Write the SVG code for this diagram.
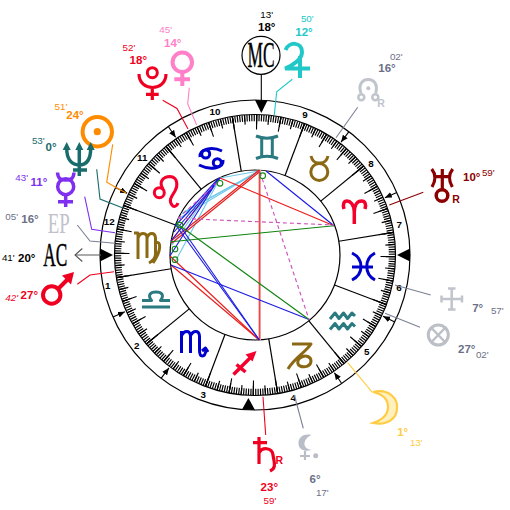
<svg xmlns="http://www.w3.org/2000/svg" width="510" height="510" viewBox="0 0 510 510">
<style>
text{font-family:"Liberation Sans",Arial,sans-serif;text-anchor:middle}
.d{font-size:11.5px;font-weight:700}
.m{font-size:9.8px}
.h{font-size:9.8px;font-weight:700;fill:#000}
.r{font-size:10.5px;font-weight:700}
.big{font-family:"Liberation Serif","Times New Roman",serif;font-weight:400}
.ring{fill:none;stroke:#000;stroke-width:1.2}
.bnd line{stroke:#000;stroke-width:1.2}
.g{fill:none;stroke-linecap:butt;stroke-linejoin:round}
.gb{stroke:#0000cc}.gt{stroke:#2a7a80}.gn{stroke:#8b6914}.gr{stroke:#f5002d}
.con polyline,.con line{fill:none;stroke-width:1.1}
.asp line{stroke-width:1.15;fill:none}
.bl{stroke:#1c1ce4}.rd{stroke:#ea1c1c}.gre{stroke:#108410}.lb{stroke:#70c8ea}.mg{stroke:#cc55bb;stroke-dasharray:4 3}
.cj{fill:none;stroke:#128a12;stroke-width:1.1}
.tri{fill:#000}
.ha line{stroke:#000;stroke-width:1.1}
</style>
<defs>
<marker id="ah" markerUnits="userSpaceOnUse" markerWidth="8" markerHeight="7" refX="7" refY="3" orient="auto"><path d="M0,0L7,3L0,6Z" fill="#000"/></marker>
</defs>

<g id="wheel">
<circle class="ring" cx="255" cy="255" r="155"/>
<circle class="ring" cx="255" cy="255" r="140.5"/>
<circle class="ring" cx="255" cy="255" r="85"/>
<g fill="none" stroke="#000" transform="rotate(-159.32 255 255)">
<circle cx="255" cy="255" r="137" stroke-width="6.5" pathLength="360" stroke-dasharray=".5 .5" stroke-dashoffset=".25"/>
<circle cx="255" cy="255" r="135.5" stroke-width="9.5" pathLength="72" stroke-dasharray=".1 .9" stroke-dashoffset=".05"/>
<circle cx="255" cy="255" r="133" stroke-width="15" pathLength="36" stroke-dasharray=".05 .95" stroke-dashoffset=".025"/>
</g>
<g class="bnd">
<line x1="340" y1="255" x2="395" y2="255" transform="rotate(-159.32 255 255)"/>
<line x1="340" y1="255" x2="395" y2="255" transform="rotate(-189.32 255 255)"/>
<line x1="340" y1="255" x2="395" y2="255" transform="rotate(-219.32 255 255)"/>
<line x1="340" y1="255" x2="395" y2="255" transform="rotate(-249.32 255 255)"/>
<line x1="340" y1="255" x2="395" y2="255" transform="rotate(-279.32 255 255)"/>
<line x1="340" y1="255" x2="395" y2="255" transform="rotate(-309.32 255 255)"/>
<line x1="340" y1="255" x2="395" y2="255" transform="rotate(-339.32 255 255)"/>
<line x1="340" y1="255" x2="395" y2="255" transform="rotate(-9.32 255 255)"/>
<line x1="340" y1="255" x2="395" y2="255" transform="rotate(-39.32 255 255)"/>
<line x1="340" y1="255" x2="395" y2="255" transform="rotate(-69.32 255 255)"/>
<line x1="340" y1="255" x2="395" y2="255" transform="rotate(-99.32 255 255)"/>
<line x1="340" y1="255" x2="395" y2="255" transform="rotate(-129.32 255 255)"/>
</g>
<g class="ha">
<line x1="410" y1="255" x2="397" y2="255" marker-end="url(#ah)" transform="rotate(-23.8 255 255)"/>
<line x1="410" y1="255" x2="397" y2="255" marker-end="url(#ah)" transform="rotate(-52.7 255 255)"/>
<line x1="410" y1="255" x2="397" y2="255" marker-end="url(#ah)" transform="rotate(-124 255 255)"/>
<line x1="410" y1="255" x2="397" y2="255" marker-end="url(#ah)" transform="rotate(-154.2 255 255)"/>
<line x1="410" y1="255" x2="397" y2="255" marker-end="url(#ah)" transform="rotate(-203.6 255 255)"/>
<line x1="410" y1="255" x2="397" y2="255" marker-end="url(#ah)" transform="rotate(-232.7 255 255)"/>
<line x1="410" y1="255" x2="397" y2="255" marker-end="url(#ah)" transform="rotate(-304 255 255)"/>
<line x1="410" y1="255" x2="397" y2="255" marker-end="url(#ah)" transform="rotate(-334.4 255 255)"/>
</g>
<polygon class="tri" points="255,100 267.5,100.5 261.3,113"/>
<polygon class="tri" points="100,248.5 100,261.5 113,255"/>
<polygon class="tri" points="242,409.5 255,410 248.4,398"/>
<polygon class="tri" points="410,248.5 410,261.5 397,255"/>
<g>
<text class="h" x="215" y="115.2">10</text><text class="h" x="142.3" y="161.2">11</text><text class="h" x="109.3" y="225.2">12</text>
<text class="h" x="107.7" y="288.6">1</text><text class="h" x="136.7" y="349.2">2</text><text class="h" x="203.3" y="397.8">3</text>
<text class="h" x="293.3" y="401.2">4</text><text class="h" x="366.7" y="355.2">5</text><text class="h" x="399" y="290.8">6</text>
<text class="h" x="399.3" y="227.8">7</text><text class="h" x="371" y="166.8">8</text><text class="h" x="305" y="117.8">9</text>
</g>
</g>

<g id="signs" class="g" stroke-width="3">
<g id="sign-cancer" class="gb"><circle cx="205.7" cy="154" r="4"/><circle cx="217.3" cy="162.7" r="4"/><path d="M200,157C199,149 212,146 222,151M223,160C224,168 211,171 199,165"/></g>
<g id="sign-leo" class="gr"><circle cx="159.3" cy="192.7" r="5"/><path d="M163,189C158,181 164,176.5 170,176.5C178,177 178,186 175,191C172,196 168,200 172,205C174,208 177,206 178,203"/></g>
<g id="sign-virgo" class="gn"><path d="M134,233H138V259M138,238C140,232 147,232 147,238V258M147,238C149,232 155,232 155.5,238V254C155.5,258 153,261 149,263M155.5,243C161,240 162,250 153,263"/></g>
<g id="sign-libra" class="gt"><path d="M142,300.5H151.5C147.5,295 150,292 156,292C162,292 164.5,295 160.5,300.5H170M142,307H170"/></g>
<g id="sign-scorpio" class="gb"><path d="M181.5,331V353M181.5,336C184,330 190,330 190.5,336V353M190.5,336C193,330 199,330 199.5,336V350C199.5,358 205,358 206,350M202,351L205.5,348L208,352"/></g>
<g id="sign-sagittarius" class="gr"><path d="M233.5,374.5L252,356M236.5,364.5L245.5,372" stroke-width="3.5"/><polygon points="256.5,351 245.5,354.5 252.5,361.5" fill="#f5002d" stroke="none"/></g>
<g id="sign-capricorn" class="gn"><path d="M292,344H311C306,352 294,358 288,369M300,358C306,354 311,357 311,361C311,366 305,368 300,366C297,364.5 297,360 300,358"/></g>
<g id="sign-aquarius" class="gt"><path d="M330,319L335,313L339,318.5L343.5,313L347.5,318.5L352,313L355,316M330,329.5L335,323.5L339,329L343.5,323.5L347.5,329L352,323.5L355,326.5"/></g>
<g id="sign-pisces" class="gb"><path d="M352,253C364,259 364,274 352,280M375,253C364,259 364,274 375,280M352,267H373"/></g>
<g id="sign-aries" class="gr" stroke-width="3.5"><path d="M354.3,224V212C354,204 350,201 347,201C344,201 342.5,204 344,209M354.3,212C354.5,204 358,201 361.5,201C365,201 366.5,204 365,209"/></g>
<g id="sign-taurus" class="gn"><circle cx="319.3" cy="172" r="8.5"/><path d="M311,156C313,164 318,163 319.3,163C321,163 326,164 328,156"/></g>
<g id="sign-gemini" class="gt"><path d="M256,136Q267,140.5 278,136M256,158.5Q267,154 278,158.5M261.7,138V156.5M272.3,138V156.5"/></g>
</g>

<g id="aspects" class="asp">
<line class="lb" x1="259" y1="171" x2="220" y2="178"/>
<line class="lb" x1="259" y1="171" x2="178" y2="219"/>
<line class="lb" x1="259" y1="171" x2="181" y2="214"/>
<line class="lb" x1="259" y1="171" x2="184" y2="212"/>
<line class="lb" x1="220" y1="178" x2="175" y2="262"/>
<line class="lb" x1="220" y1="178" x2="172" y2="245"/>
<line class="rd" x1="259.3" y1="170" x2="259.3" y2="340"/>
<line stroke="#f69a9a" x1="260.4" y1="170" x2="260.4" y2="340"/>
<line class="rd" x1="259.3" y1="170" x2="171" y2="241"/>
<line class="rd" x1="259.3" y1="172" x2="172" y2="243"/>
<line class="rd" x1="220" y1="178" x2="334" y2="225.7"/>
<line class="rd" x1="220" y1="178" x2="171" y2="241"/>
<line class="rd" x1="170" y1="256" x2="259.3" y2="340"/>
<line class="rd" x1="171" y1="265" x2="259.3" y2="340"/>
<line class="bl" x1="266" y1="171" x2="334" y2="225.7"/>
<line class="bl" x1="220" y1="178" x2="171" y2="241"/>
<line class="bl" x1="219" y1="178" x2="170" y2="256"/>
<line class="bl" x1="218" y1="179" x2="176" y2="225"/>
<line class="bl" x1="220" y1="178" x2="174" y2="232"/>
<line class="bl" x1="171" y1="265" x2="309" y2="319.5"/>
<line class="bl" x1="180" y1="226" x2="259.3" y2="340"/>
<line class="bl" x1="175" y1="224" x2="259.3" y2="340"/>
<line class="gre" x1="171" y1="241.7" x2="334" y2="225.7"/>
<line class="gre" x1="176" y1="223" x2="309" y2="319.5"/>
<line class="mg" x1="178" y1="218.3" x2="334" y2="225"/>
<line class="mg" x1="260" y1="172" x2="309" y2="319.5"/>
<line class="mg" x1="178" y1="218.3" x2="220" y2="180"/>
<circle class="cj" cx="262.7" cy="175.7" r="2.8"/>
<circle class="cj" cx="220" cy="183.3" r="2.8"/>
<circle class="cj" cx="180" cy="225" r="2.8"/>
<circle class="cj" cx="175" cy="249" r="2.8"/>
<circle class="cj" cx="175" cy="259.7" r="2.8"/>
</g>

<g id="connectors" class="con">
<polyline stroke="#f00020" points="162.7,100.3 177,108.5 188,129"/>
<polyline stroke="#ff80c8" points="189.3,87.7 187.7,104 196.7,125"/>
<polyline stroke="#ff8c00" points="112.7,144.3 106.7,182.3 126,193"/>
<polyline stroke="#1a6b6b" points="96.7,169.3 100,199 123,208"/>
<polyline stroke="#7f2fef" points="84.7,196.7 91.7,229.3 115,232.7"/>
<polyline stroke="#7a8094" points="77.3,225 90,241 115,243.3"/>
<polyline stroke="#f00020" points="77.3,284.3 90,275 114,271.7"/>
<polyline stroke="#22c8c8" points="292.3,79.3 276.7,91.7 274.3,115"/>
<line stroke="#7a8094" x1="357.7" y1="107.3" x2="336" y2="137.7"/>
<line stroke="#8b0000" x1="423.3" y1="192.3" x2="389.3" y2="205"/>
<line stroke="#7a8094" x1="430.7" y1="295" x2="395" y2="285"/>
<line stroke="#7a8094" x1="420" y1="327.3" x2="385" y2="313.3"/>
<line stroke="#ffcc44" x1="372.3" y1="392.3" x2="347.7" y2="362.7"/>
<line stroke="#7a8094" x1="303.3" y1="428.3" x2="294.3" y2="395"/>
<line stroke="#f00020" x1="265.7" y1="435" x2="263" y2="396.7"/>
<line stroke="#000" x1="261.3" y1="75" x2="261.3" y2="101"/>
<line stroke="#666" stroke-width="1.8" x1="75" y1="255" x2="101" y2="255"/>
<polyline stroke="#555" points="82.3,248.5 75,255 82.3,261.5"/>
</g>

<g id="mc">
<circle cx="261" cy="55.3" r="19" fill="#fff" stroke="#000" stroke-width="1.2"/>
<text class="big" x="261" y="67" font-size="35" stroke="#000" stroke-width=".45" textLength="27" lengthAdjust="spacingAndGlyphs">MC</text>
<text class="m" x="266.7" y="17.5">13'</text><text class="d" x="266.7" y="31.2">18°</text>
</g>
<g id="jupiter">
<path d="M285.5,50C289,41 302,42 302,52C302,59 294,65 285,68.5H310M300,56V78" fill="none" stroke="#22c8c8" stroke-width="4"/>
<text class="m" x="307.3" y="21.5" fill="#22c8c8">50'</text><text class="d" x="304" y="36.2" fill="#22c8c8">12°</text>
</g>
<g id="venus">
<circle cx="182.3" cy="62.3" r="9.7" fill="none" stroke="#ff80c8" stroke-width="4"/><path d="M182.3,72V86M174.3,79.3H190" fill="none" stroke="#ff80c8" stroke-width="4"/>
<text class="m" x="165.7" y="32.5" fill="#ff80c8">45'</text><text class="d" x="172.7" y="47.2" fill="#ff80c8">14°</text>
</g>
<g id="pluto">
<circle cx="152.3" cy="72.7" r="5" fill="none" stroke="#f00020" stroke-width="3"/><path d="M139,74C139,92 166,92 166,74M152.3,87V100M146,94.3H158.7" fill="none" stroke="#f00020" stroke-width="3.2"/>
<text class="m" x="129" y="51" fill="#f00020">52'</text><text class="d" x="138.3" y="64.2" fill="#f00020">18°</text>
</g>
<g id="sun">
<circle cx="97.3" cy="131.7" r="14.7" fill="none" stroke="#ff8c00" stroke-width="4"/><circle cx="97.3" cy="131.7" r="3.6" fill="#ff8c00"/>
<text class="m" x="61" y="110" fill="#ff8c00">51'</text><text class="d" x="75" y="119.2" fill="#ff8c00">24°</text>
</g>
<g id="neptune">
<path d="M66.7,148C66.7,160 72,165 79.3,165C86.5,165 90.7,160 90.7,148M79.3,148V176M73,170H87" fill="none" stroke="#1a6b6b" stroke-width="3.5"/>
<path d="M62.7,150L66.7,142L70.7,150ZM75.3,150L79.3,142L83.3,150ZM86.7,150L90.7,142L94.7,150Z" fill="#1a6b6b"/>
<text class="m" x="38.3" y="144" fill="#1a6b6b">53'</text><text class="d" x="51" y="151.2" fill="#1a6b6b">0°</text>
</g>
<g id="mercury">
<circle cx="65.7" cy="186.7" r="8" fill="none" stroke="#7f2fef" stroke-width="3.5"/><path d="M57.5,172.5C58,180 62,180 65.7,180C69.5,180 73.5,180 74,172.5M65.7,195V207M58,201.7H73" fill="none" stroke="#7f2fef" stroke-width="3.5"/>
<text class="m" x="21.7" y="181" fill="#7f2fef">43'</text><text class="d" x="39" y="186.2" fill="#7f2fef">11°</text>
</g>
<g id="ep">
<text class="big" x="58.8" y="232.5" font-size="29" fill="#bfc2ca" textLength="22" lengthAdjust="spacingAndGlyphs">EP</text>
<text class="m" x="11.7" y="220" fill="#6b7086">05'</text><text class="d" x="30" y="223.2" fill="#6b7086">16°</text>
</g>
<g id="ac">
<text class="big" x="55.3" y="265.5" font-size="33" fill="#000" stroke="#000" stroke-width=".45" textLength="24" lengthAdjust="spacingAndGlyphs">AC</text>
<text class="m" x="8.3" y="261">41'</text><text class="d" x="26.7" y="261.8">20°</text>
</g>
<g id="mars">
<circle cx="51.7" cy="295" r="8.7" fill="none" stroke="#f00020" stroke-width="4"/><path d="M58,289L68,279" fill="none" stroke="#f00020" stroke-width="4"/><polygon points="74,272 62,275.5 71,284.5" fill="#f00020"/>
<text class="m" x="11.7" y="301" fill="#f00020" font-style="italic">42'</text><text class="d" x="29.3" y="299.2" fill="#f00020">27°</text>
</g>
<g id="node">
<path d="M361,93C358,85 362,79.5 368.3,79.5C374.5,79.5 378,85 375.7,93" fill="none" stroke="#c0c4cc" stroke-width="3"/><circle cx="361.3" cy="97.3" r="3" fill="none" stroke="#c0c4cc" stroke-width="2.5"/><circle cx="375.3" cy="97.3" r="3" fill="none" stroke="#c0c4cc" stroke-width="2.5"/><circle cx="368.3" cy="88.3" r="2" fill="#c0c4cc"/>
<text class="r" x="381" y="107" fill="#c0c4cc">R</text>
<text class="m" x="396.3" y="60" fill="#6b7086">02'</text><text class="d" x="387" y="71.7" fill="#6b7086">16°</text>
</g>
<g id="uranus">
<path d="M431.7,169Q438,177 432,187M452.7,169Q446.5,177 452.3,187M436,176.7H449M442.3,169V190" fill="none" stroke="#8b0000" stroke-width="3.2"/><circle cx="442" cy="195.5" r="5.8" fill="none" stroke="#8b0000" stroke-width="3.5"/>
<text class="r" x="456" y="203" fill="#8b0000">R</text>
<text class="d" x="471.7" y="180.7" fill="#8b0000">10°</text><text class="m" x="488.3" y="176" fill="#8b0000">59'</text>
</g>
<g id="cross-point">
<path d="M451.7,288V310M441,299H462.3M448,288.5H455.5M448,309.5H455.5M441.5,295.5V302.5M462,295.5V302.5" fill="none" stroke="#c0c4cc" stroke-width="2.5"/>
<text class="d" x="477.7" y="311.7" fill="#6b7086">7°</text><text class="m" x="497.3" y="313.5" fill="#6b7086">57'</text>
</g>
<g id="fortune">
<circle cx="438.3" cy="335" r="10" fill="none" stroke="#bbbfc6" stroke-width="3"/><path d="M431.5,328L445,342M445,328L431.5,342" fill="none" stroke="#bbbfc6" stroke-width="2.5"/>
<text class="d" x="466.7" y="353.2" fill="#6b7086">27°</text><text class="m" x="482.3" y="357.5" fill="#6b7086">02'</text>
</g>
<g id="moon">
<path d="M373,392C390,388 398,400 397,408C397,418 388,426 373,423C382,420 388,415 388,407C388,399 382,394 373,392Z" fill="#fff0c0" stroke="#ffcc44" stroke-width="2.2"/>
<text class="d" x="402.7" y="435.7" fill="#ffcc44">1°</text><text class="m" x="416.3" y="445.5" fill="#ffcc44">13'</text>
</g>
<g id="lilith">
<path d="M311.5,435C302,433 298,439 298.5,444C299,450 305,452 311.5,450C306,449 304,446 304.5,443C305,440 307,437 311.5,435Z" fill="#b9bdc6"/><path d="M305,451V460M300,456H310" fill="none" stroke="#b9bdc6" stroke-width="2.2"/><circle cx="315.7" cy="455.7" r="2.5" fill="#b9bdc6"/>
<text class="d" x="315" y="482.7" fill="#6b7086">6°</text><text class="m" x="322.3" y="495.5" fill="#6b7086">17'</text>
</g>
<g id="saturn">
<path d="M259,437V464M253,442.7H267M259,453C262,447 272,447 273,455C274,462 277,468 270,471" fill="none" stroke="#f00020" stroke-width="3.2"/>
<text class="r" x="279.3" y="464" fill="#f00020">R</text>
<text class="d" x="269.3" y="490.7" fill="#f00020">23°</text><text class="m" x="270" y="504" fill="#f00020">59'</text>
</g>
</svg>
